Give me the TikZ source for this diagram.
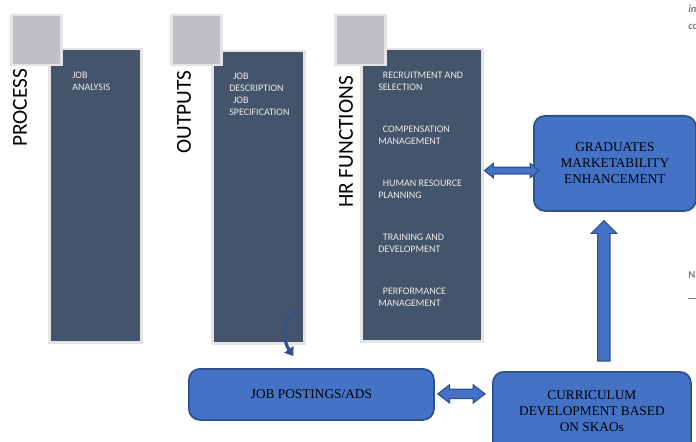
\documentclass[tikz,border=0pt]{standalone}
\usepackage{fontspec}
\setmainfont{Liberation Serif}
\newfontfamily\calib{Carlito}
\usetikzlibrary{calc,positioning,shapes.arrows,arrows.meta}

\def\u{0.75pt}
\definecolor{slate}{HTML}{44546A}
\definecolor{sqgray}{HTML}{C0C1C6}
\definecolor{rim}{HTML}{E4E4E4}
\definecolor{pale}{HTML}{ECECEC}
\definecolor{boxblue}{HTML}{4472C4}
\definecolor{boxedge}{HTML}{2F528F}

\tikzset{
  column/.style={draw=rim, fill=slate, line width=2.5*\u, inner sep=0, anchor=north west},
  tab/.style={draw=rim, fill=sqgray, line width=2.5*\u, inner sep=0, anchor=north west,
    minimum width=50*\u, minimum height=50*\u},
  side/.style={rotate=90, font=\calib\fontsize{16}{18}\selectfont, inner sep=0},
  item/.style={anchor=north west, align=left, inner sep=0, text=pale,
    font=\calib\fontsize{7.5}{9}\selectfont},
  roundbox/.style={draw=boxedge, fill=boxblue, line width=1.8*\u, rounded corners=11*\u,
    align=center, font=\fontsize{10}{12}\selectfont, anchor=north west},
  fat/.style={draw=boxedge, fill=boxblue, line width=1.2*\u, inner xsep=0},
  curl/.style={draw=boxedge, line width=3.2*\u, -{Triangle[width=11*\u,length=8*\u]}},
}

\begin{document}
\begin{tikzpicture}[x=\u, y=-\u]
\useasboundingbox (0,0) rectangle (696,442);
\clip (0,0) rectangle (696,442);

% columns
\node[column, minimum width=92*\u, minimum height=293*\u] (process) at (48,48) {};
\node[column, minimum width=92*\u, minimum height=292*\u] (outputs) at (211,50) {};
\node[column, minimum width=121*\u, minimum height=292*\u] (hr) at (360,48) {};

\node[tab] (tab1) at (10,14) {};
\node[tab] (tab2) at (170,14) {};
\node[tab] (tab3) at (334,14) {};

\node[side] (lprocess) at (20,108) {PROCESS};
\node[side] (loutputs) at (184,112) {OUTPUTS};
\node[side] (lhr) at (346,142) {HR FUNCTIONS};

% column texts
\node[item] (jobanalysis) at (72,72) {JOB\\ANALYSIS};
\node[item] (jobdesc) at (229,73) {\hspace*{3pt}JOB\\DESCRIPTION\\\hspace*{3pt}JOB\\SPECIFICATION};
\node[item] (recruit) at (378,72) {\hspace*{3.5pt}RECRUITMENT AND\\SELECTION};
\node[item] (compens) at (378,126) {\hspace*{3.5pt}COMPENSATION\\MANAGEMENT};
\node[item] (hrplan) at (378,180) {\hspace*{3.5pt}HUMAN RESOURCE\\PLANNING};
\node[item] (training) at (378,234) {\hspace*{3.5pt}TRAINING AND\\DEVELOPMENT};
\node[item] (perform) at (378,288) {\hspace*{3.5pt}PERFORMANCE\\MANAGEMENT};

% blue boxes
\node[roundbox, minimum width=162*\u, minimum height=95*\u] (grad) at (533,115) {};
\node[align=center, font=\fontsize{10}{12}\selectfont] (gradtxt) at (grad.center) {GRADUATES\\MARKETABILITY\\ENHANCEMENT};
\node[roundbox, minimum width=245*\u, minimum height=51*\u] (jobpost) at (188,368) {};
\node[font=\fontsize{10}{12}\selectfont] (jobposttxt) at (jobpost.center) {JOB POSTINGS/ADS};
\node[roundbox, minimum width=198*\u, minimum height=84*\u] (curr) at (492,371) {};
\node[align=center, font=\fontsize{10}{12}\selectfont] (currtxt) at ($(curr.north)+(0,40)$) {CURRICULUM\\DEVELOPMENT BASED\\ON SKAOs};

% arrows
\coordinate (ha) at ($(hr.east)+(1,-24.5)$);
\coordinate (hb) at ($(grad.west)+(6,7)$);
\coordinate (la) at ($(jobpost.east)+(3,-1.5)$);
\coordinate (lb) at ($(curr.west)+(-7,-19)$);
\coordinate (ufoot) at ($(curr.north)+(12,-7)$);
\coordinate (utip) at ($(grad.south)+(-11,12)$);

\path let \p1=($(hb)-(ha)$) in
  node[fat, double arrow, minimum height={veclen(\x1,\y1)}, inner ysep=2.75*\u,
    double arrow head extend=3.75*\u, double arrow tip angle=78] (hrarrow) at ($(ha)!0.5!(hb)$) {};
\path let \p1=($(lb)-(la)$) in
  node[fat, double arrow, minimum height={veclen(\x1,\y1)}, inner ysep=4*\u,
    double arrow head extend=4.5*\u, double arrow tip angle=75] (postarrow) at ($(la)!0.5!(lb)$) {};
\path let \p1=($(utip)-(ufoot)$) in
  node[fat, single arrow, rotate=90, minimum height={veclen(\x1,\y1)}, inner ysep=5.5*\u,
    single arrow head extend=6.5*\u, single arrow tip angle=90] (uparrow) at ($(ufoot)!0.5!(utip)$) {};

\draw[curl] ([shift={(-10,-33)}]outputs.south east) to[out=210,in=125] ([shift={(-18,-12)}]jobpost.north);

% cut-off page text at the right edge
\node[anchor=west, inner sep=0, text=gray, font=\calib\bfseries\itshape\fontsize{8}{9}\selectfont] (edge1) at (688,9) {in};
\node[anchor=west, inner sep=0, text=gray, font=\calib\bfseries\itshape\fontsize{8}{9}\selectfont] (edge2) at (688,27) {co};
\node[anchor=west, inner sep=0, text=gray, font=\calib\bfseries\fontsize{8}{9}\selectfont] (edge3) at (688,275) {N};
\draw[gray, line width=1.2*\u] (edge3.south west) ++(0,20) -- ++(10,0);
\end{tikzpicture}
\end{document}
